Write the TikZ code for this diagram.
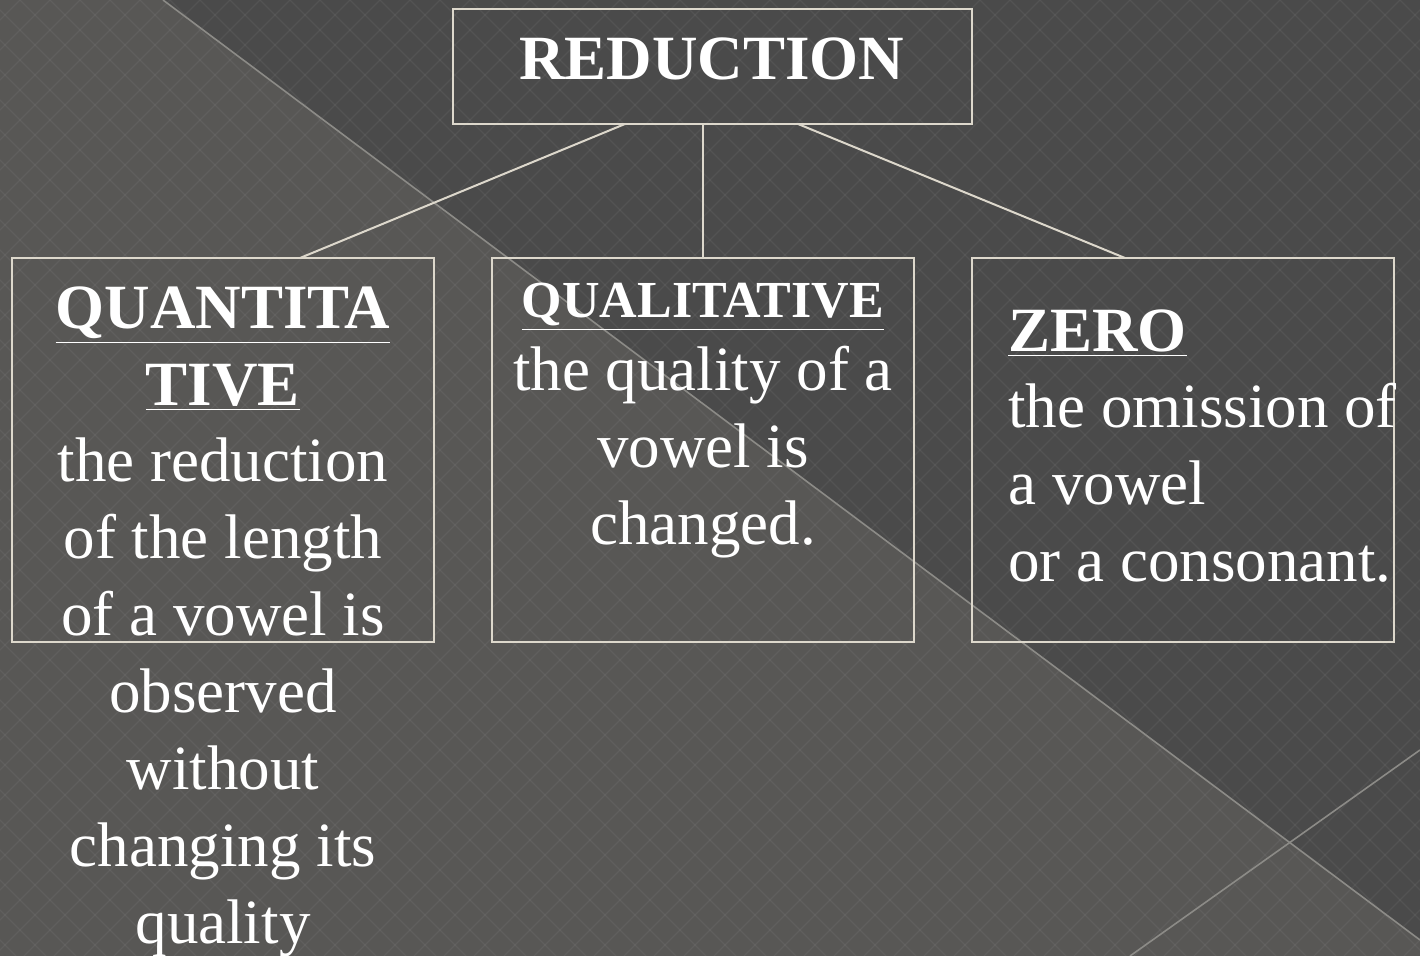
\documentclass[tikz,border=0pt]{standalone}
\usepackage{fontspec}
\setmainfont{Liberation Serif}
\definecolor{bgdark}{HTML}{4A4A4A}
\definecolor{bglight}{HTML}{585755}
\definecolor{boxline}{HTML}{DDD8CC}
\definecolor{deco}{HTML}{8C8B87}
\tikzset{
  px/.style={x=0.5pt,y=-0.5pt},
  cbox/.style={draw=boxline,line width=1pt},
  conn/.style={draw=boxline,line width=1pt},
  txt/.style={text=white,font=\fontsize{31.5}{38.5}\selectfont,inner sep=0pt,anchor=base},
  head/.style={text=white,font=\bfseries\fontsize{31.5}{38.5}\selectfont,inner sep=0pt,anchor=base},
}
\begin{document}
\begin{tikzpicture}[px]
\useasboundingbox (0,0) rectangle (1420,956);
% background
\fill[bgdark] (0,0) rectangle (1420,956);
\fill[bglight] (0,0) -- (163,0) -- (1420,940) -- (1420,956) -- (0,956) -- cycle;
\begin{scope}
\clip (0,0) rectangle (1420,956);
\foreach \i in {-1000,-970,...,2440} {
  \draw[white,opacity=0.05,line width=0.6pt] (\i,0) -- ++(956,956);
  \draw[white,opacity=0.05,line width=0.6pt] (\i,0) -- ++(-956,956);
}
\end{scope}
\draw[deco,line width=0.8pt] (163,0) -- (1420,940);
\draw[deco,line width=0.8pt] (1130,956) -- (1420,750);
% boxes
\node[cbox,minimum width=259.5pt,minimum height=57.5pt,inner sep=0pt] (red) at (712.5,66.5) {};
\node[cbox,minimum width=211pt,minimum height=192pt,inner sep=0pt] (quan) at (223,450) {};
\node[cbox,minimum width=211pt,minimum height=192pt,inner sep=0pt] (qual) at (703,450) {};
\node[cbox,minimum width=211pt,minimum height=192pt,inner sep=0pt] (zero) at (1183,450) {};
% connectors
\coordinate (r1) at (625,124); \coordinate (q1) at (300,258);
\coordinate (r3) at (798,124); \coordinate (z1) at (1125,258);
\draw[conn] (r1) -- (q1);
\draw[conn] (red.south -| qual.north) -- (qual.north);
\draw[conn] (r3) -- (z1);
% texts (base anchor = baseline of the last line)
\node[head] (tred) at (712,80) {REDUCTION};
\node[head,align=center] (tquanh) at (223,406) {\underline{QUANTITA}\\\underline{TIVE}};
\node[txt,align=center] (tquan) at (223,943) {the reduction\\of the length\\of a vowel is\\observed\\without\\changing its\\quality};
\node[head,font=\bfseries\fontsize{26}{30}\selectfont] (tqualh) at (703,318) {\underline{QUALITATIVE}};
\node[txt,align=center] (tqual) at (703,545) {the quality of a\\vowel is\\changed.};
\node[head,anchor=base west] (tzeroh) at (1008,352) {\underline{ZERO}};
\node[txt,align=left,anchor=base west] (tzero) at (1008,582) {the omission of\\a vowel\\or a consonant.};
\end{tikzpicture}
\end{document}
